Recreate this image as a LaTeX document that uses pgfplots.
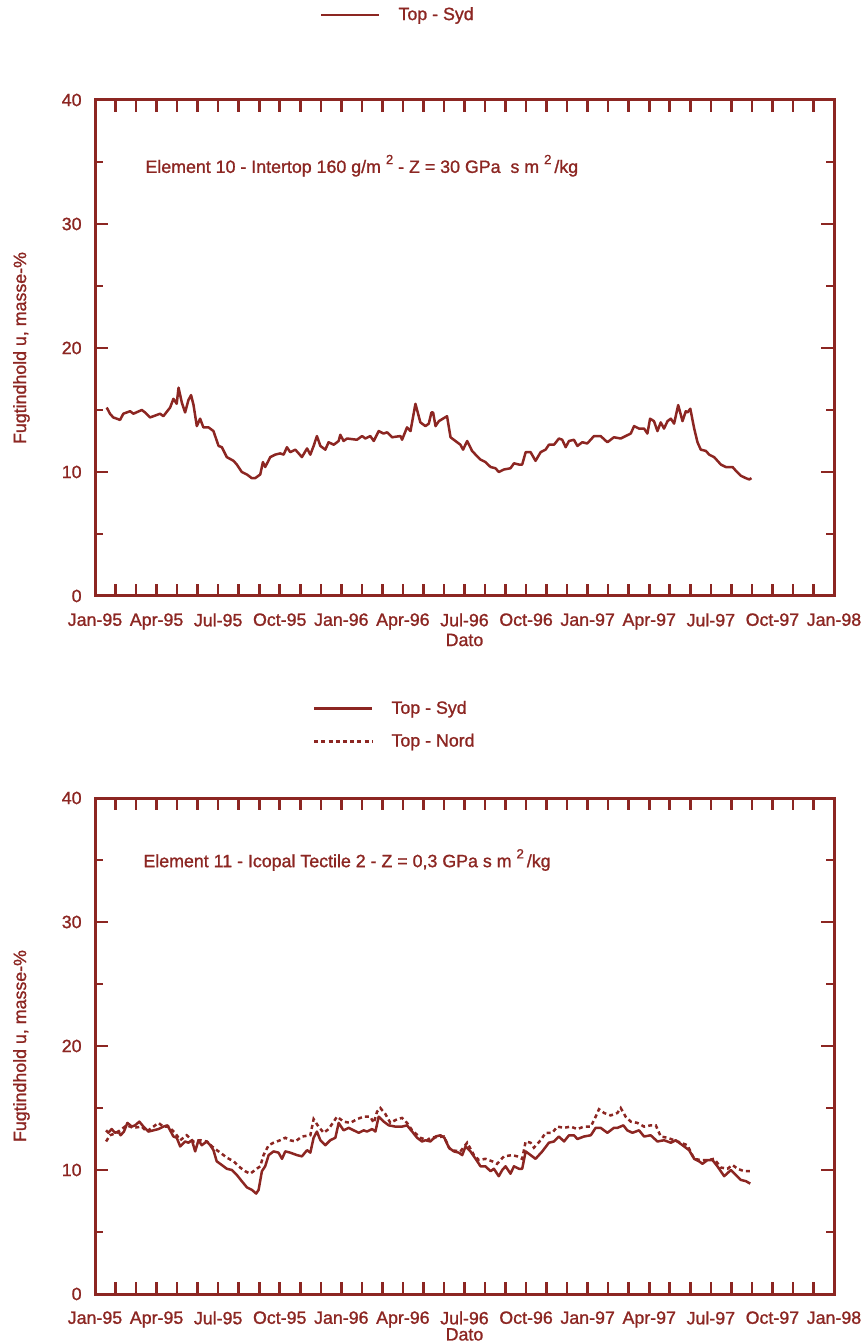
\documentclass[border=0pt]{standalone}
\usepackage{fontspec}
\setmainfont[FakeBold=1.2]{Liberation Sans}
\usepackage{pgfplots}
\pgfplotsset{compat=1.18}
\definecolor{dred}{RGB}{140,38,34}
\newcommand{\sq}{\raisebox{4.4bp}{\fontsize{6.6bp}{7bp}\selectfont 2}}
\newcommand{\myfont}{\fontsize{8.9bp}{10bp}\selectfont}
\pgfplotsset{
  myax/.style={
    scale only axis, width=369.5bp, height=248bp,
    xmin=0, xmax=36, ymin=0, ymax=40,
    axis line style={dred, line width=1.5bp},
    xtick={0,3,...,36},
    xticklabels={Jan-95,Apr-95,Jul-95,Oct-95,Jan-96,Apr-96,Jul-96,Oct-96,Jan-97,Apr-97,Jul-97,Oct-97,Jan-98},
    minor xtick={0,...,36},
    ytick={0,10,20,30,40},
    minor ytick={5,15,25,35},
    tick align=inside,
    xtick style={/pgfplots/major tick length=6bp,/pgfplots/minor tick length=6bp},
    ytick style={/pgfplots/major tick length=6.5bp,/pgfplots/minor tick length=4bp},
    tick style={dred, line width=1.3bp},
    /pgf/number format/assume math mode=true,
    tick label style={text=dred, font=\myfont},
    yticklabel style={anchor=east, inner sep=0pt, xshift=-6.5bp},
    xticklabel style={anchor=north, inner sep=0pt, yshift=-8.5bp},
    xlabel={Dato},
    ylabel={Fugtindhold u, masse-\%},
    every axis x label/.style={at={(axis description cs:0.5,-0.0887)}, anchor=center, text=dred, font=\myfont},
    every axis y label/.style={at={(axis description cs:-0.0995,0.5)}, rotate=90, anchor=center, text=dred, font=\myfont},
    legend style={draw=none, fill=none, inner sep=0pt, outer sep=0pt, text=dred, font=\myfont, column sep=9bp, row sep=8.6bp, nodes={inner sep=0pt}},
    legend cell align=left,
    legend image code/.code={\draw[#1] (0bp,0bp) -- (29bp,0bp);},
  },
  syd/.style={dred, line width=1.25bp, line join=round},
  nord/.style={dred, line width=1.25bp, dash pattern=on 2bp off 1.6bp},
}
\begin{document}
\myfont
\color{dred}
\begin{tikzpicture}
\useasboundingbox (0,0) rectangle (431bp,671bp);
% ---------------- top chart ----------------
\begin{axis}[myax, at={(47.5bp,373bp)}, anchor=south west,
  legend style={at={(axis description cs:0.3045,1.1714)}, anchor=west}]
\addplot[syd] coordinates {
(0.57,15.2)(0.73,14.7)(0.89,14.4)(1.06,14.3)(1.22,14.2)(1.38,14.7)(1.71,14.9)(1.87,14.7)
(2.28,15.0)(2.44,14.8)(2.68,14.4)(2.85,14.5)(3.17,14.7)(3.33,14.5)(3.66,15.2)(3.82,15.9)
(3.98,15.5)(4.07,16.8)(4.23,15.6)(4.39,14.8)(4.55,15.8)(4.68,16.2)(4.80,15.4)(4.96,13.7)
(5.12,14.3)(5.28,13.6)(5.53,13.6)(5.77,13.3)(6.02,12.1)(6.18,12.0)(6.42,11.2)(6.75,10.9)
(6.91,10.6)(7.15,10.0)(7.40,9.8)(7.64,9.5)(7.80,9.5)(8.05,9.8)(8.18,10.8)(8.29,10.4)
(8.54,11.2)(8.78,11.4)(9.02,11.5)(9.19,11.4)(9.35,12.0)(9.51,11.6)(9.76,11.8)(10.08,11.2)
(10.33,11.9)(10.49,11.4)(10.65,12.1)(10.81,12.9)(10.98,12.1)(11.22,11.8)(11.38,12.4)(11.63,12.2)
(11.87,12.5)(11.95,13.0)(12.11,12.5)(12.28,12.7)(12.76,12.6)(13.01,12.9)(13.17,12.7)(13.41,12.9)
(13.58,12.5)(13.82,13.3)(14.06,13.1)(14.23,13.2)(14.47,12.8)(14.88,12.9)(14.96,12.6)(15.20,13.6)
(15.37,13.3)(15.61,15.5)(15.85,14.0)(16.10,13.7)(16.26,13.9)(16.39,14.8)(16.47,14.8)(16.59,13.7)
(16.75,14.1)(17.15,14.5)(17.32,12.8)(17.48,12.6)(17.64,12.4)(17.80,12.2)(17.93,11.8)(18.13,12.5)
(18.37,11.7)(18.54,11.4)(18.78,11.0)(19.02,10.8)(19.27,10.4)(19.51,10.3)(19.67,10.0)(19.92,10.2)
(20.24,10.3)(20.41,10.7)(20.65,10.6)(20.81,10.6)(20.98,11.6)(21.22,11.6)(21.46,10.9)(21.71,11.6)
(21.95,11.8)(22.11,12.2)(22.36,12.2)(22.60,12.7)(22.76,12.6)(22.93,12.0)(23.09,12.5)(23.33,12.6)
(23.50,12.1)(23.74,12.4)(23.98,12.3)(24.31,12.9)(24.63,12.9)(24.96,12.4)(25.28,12.8)(25.61,12.7)
(25.85,12.9)(26.10,13.1)(26.26,13.7)(26.50,13.5)(26.75,13.5)(26.91,13.1)(27.04,14.3)(27.23,14.1)
(27.40,13.3)(27.56,14.0)(27.72,13.5)(27.89,14.1)(28.05,14.3)(28.21,13.9)(28.41,15.4)(28.62,14.1)
(28.78,14.9)(28.86,14.8)(29.00,15.1)(29.19,13.5)(29.35,12.4)(29.51,11.8)(29.76,11.7)(29.92,11.4)
(30.16,11.2)(30.49,10.6)(30.73,10.4)(31.06,10.4)(31.22,10.1)(31.46,9.7)(31.71,9.5)(31.87,9.4)
(31.98,9.5)
};
\addlegendentry{Top - Syd}
\node[anchor=west, inner sep=0pt, text=dred] at (axis cs:2.44,34.7)
  {Element 10 - Intertop 160 g/m \sq\ - Z = 30 GPa \ s m \sq\,/kg};
\end{axis}
% ---------------- bottom chart ----------------
\begin{axis}[myax, at={(47.5bp,24bp)}, anchor=south west,
  every axis x label/.style={at={(axis description cs:0.5,-0.0815)}, anchor=center, text=dred, font=\myfont},
  legend style={at={(axis description cs:0.295,1.147)}, anchor=west}]
\addplot[syd] coordinates {
(0.54,13.2)(0.65,13.0)(0.81,13.3)(0.98,13.0)(1.14,13.1)(1.25,12.8)(1.41,13.1)(1.58,13.8)
(1.79,13.5)(1.95,13.6)(2.16,13.9)(2.36,13.5)(2.60,13.1)(2.85,13.2)(3.09,13.3)(3.33,13.5)
(3.53,13.6)(3.66,13.2)(3.82,12.7)(3.98,12.6)(4.15,11.9)(4.39,12.3)(4.55,12.2)(4.72,12.4)
(4.88,11.5)(5.04,12.4)(5.20,12.0)(5.45,12.3)(5.61,12.0)(5.77,11.6)(5.93,10.7)(6.18,10.4)
(6.42,10.1)(6.67,10.0)(6.91,9.6)(7.15,9.1)(7.40,8.6)(7.64,8.4)(7.85,8.1)(7.97,8.4)
(8.13,9.9)(8.29,10.3)(8.46,11.2)(8.70,11.5)(8.94,11.4)(9.11,10.9)(9.27,11.5)(9.51,11.4)
(9.84,11.2)(10.08,11.1)(10.33,11.6)(10.49,11.4)(10.65,12.6)(10.81,13.1)(10.98,12.4)(11.22,12.0)
(11.46,12.4)(11.71,12.6)(11.87,13.8)(12.11,13.2)(12.36,13.4)(12.60,13.2)(12.85,13.0)(13.09,13.2)
(13.25,13.1)(13.50,13.3)(13.66,13.1)(13.82,14.3)(14.07,13.9)(14.31,13.6)(14.63,13.5)(14.96,13.5)
(15.20,13.6)(15.45,13.1)(15.69,12.6)(15.93,12.3)(16.10,12.4)(16.34,12.3)(16.59,12.7)(16.83,12.8)
(17.02,12.6)(17.24,11.8)(17.48,11.5)(17.72,11.4)(17.89,11.2)(18.05,11.9)(18.29,11.5)(18.54,10.9)
(18.78,10.3)(19.02,10.3)(19.27,9.9)(19.43,10.1)(19.67,9.5)(19.84,10.0)(20.00,10.3)(20.24,9.7)
(20.41,10.3)(20.65,10.1)(20.81,10.1)(20.98,11.5)(21.22,11.2)(21.46,10.9)(21.79,11.5)(22.11,12.2)
(22.36,12.3)(22.60,12.7)(22.85,12.3)(23.09,12.8)(23.33,12.8)(23.50,12.5)(23.82,12.7)(24.15,12.8)
(24.39,13.4)(24.63,13.4)(24.96,13.0)(25.28,13.4)(25.45,13.4)(25.74,13.6)(25.93,13.2)(26.18,13.0)
(26.50,13.2)(26.75,12.7)(27.07,12.8)(27.40,12.3)(27.72,12.4)(28.05,12.2)(28.29,12.4)(28.70,11.9)
(28.94,11.6)(29.19,10.9)(29.43,10.7)(29.59,10.5)(29.84,10.8)(30.08,10.8)(30.32,10.3)(30.65,9.5)
(30.98,10.0)(31.22,9.6)(31.46,9.2)(31.71,9.1)(31.92,8.9)
};
\addlegendentry{Top - Syd}
\addplot[nord] coordinates {
(0.54,12.3)(0.73,12.8)(1.06,13.0)(1.54,13.6)(1.87,13.4)(2.28,13.5)(2.52,13.1)(2.85,13.5)
(3.09,13.8)(3.33,13.5)(3.58,13.5)(3.90,13.0)(4.15,12.4)(4.47,12.8)(4.80,12.3)(5.12,12.4)
(5.45,12.3)(5.77,11.8)(6.10,11.4)(6.42,11.0)(6.75,10.7)(7.07,10.2)(7.32,9.9)(7.56,9.7)
(7.80,10.0)(8.05,10.3)(8.21,11.2)(8.46,12.0)(8.70,12.2)(9.02,12.4)(9.27,12.6)(9.51,12.4)
(9.76,12.3)(10.08,12.7)(10.49,12.8)(10.65,14.1)(10.89,13.5)(11.14,13.0)(11.38,13.3)(11.79,14.3)
(12.11,13.9)(12.44,13.8)(12.76,14.1)(13.09,14.3)(13.41,14.3)(13.58,13.8)(13.74,14.7)(13.90,15.0)
(14.15,14.5)(14.39,13.8)(14.72,14.1)(14.96,14.2)(15.20,13.8)(15.45,13.2)(15.85,12.6)(16.18,12.4)
(16.34,12.6)(16.99,12.7)(17.32,11.6)(17.80,11.5)(18.13,12.2)(18.46,11.2)(18.70,10.8)(19.02,10.9)
(19.35,10.7)(19.59,10.5)(19.92,11.1)(20.32,11.2)(20.57,11.1)(20.81,10.9)(20.98,12.3)(21.22,12.2)
(21.38,11.8)(21.71,12.4)(21.95,13.0)(22.28,13.0)(22.52,13.5)(22.85,13.4)(23.17,13.5)(23.50,13.3)
(23.82,13.5)(24.15,13.5)(24.39,14.3)(24.55,14.9)(24.80,14.6)(25.12,14.4)(25.45,14.6)(25.61,15.0)
(25.85,14.3)(26.10,13.9)(26.42,13.8)(26.75,13.5)(27.07,13.6)(27.32,13.6)(27.56,12.7)(27.89,12.6)
(28.21,12.4)(28.54,12.2)(28.86,12.0)(29.19,10.9)(29.51,10.8)(29.84,10.8)(30.16,10.9)(30.49,10.2)
(30.81,10.1)(31.06,10.4)(31.30,10.1)(31.63,9.9)(31.92,9.9)
};
\addlegendentry{Top - Nord}
\node[anchor=west, inner sep=0pt, text=dred] at (axis cs:2.34,35.0)
  {Element 11 - Icopal Tectile 2 - Z = 0,3 GPa s m \sq\,/kg};
\end{axis}
\end{tikzpicture}
\end{document}
